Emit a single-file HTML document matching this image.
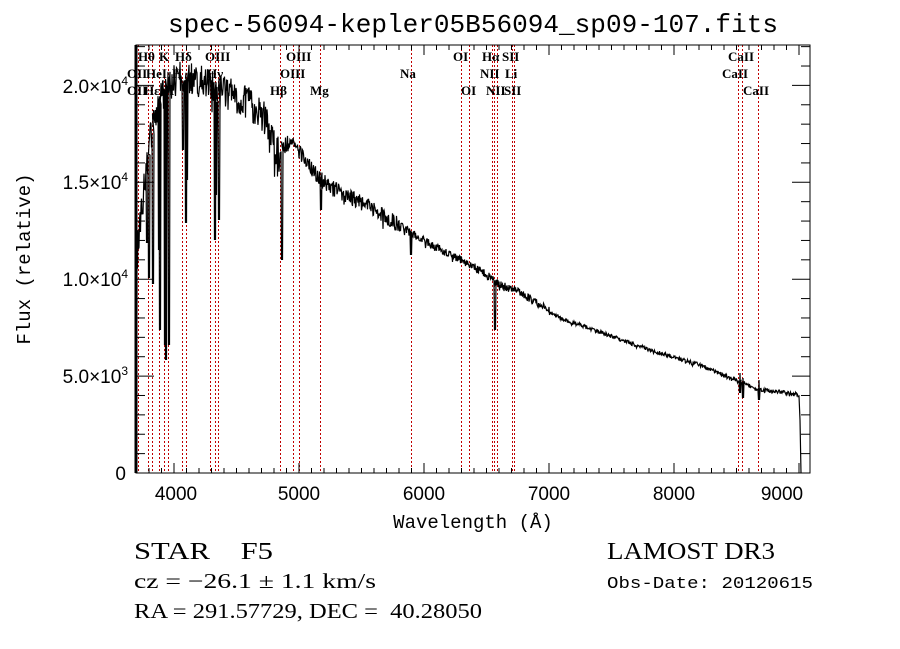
<!DOCTYPE html>
<html><head><meta charset="utf-8"><style>
body{margin:0;background:#fff;width:900px;height:649px;overflow:hidden}
svg{display:block}
.t{font-family:"Liberation Sans",sans-serif;font-size:19px;fill:#000}
.s{font-family:"Liberation Serif",serif;fill:#000}
.m{font-family:"Liberation Mono",monospace;fill:#000}
.l{font-family:"Liberation Serif",serif;font-size:13px;fill:#000;font-weight:bold}
</style></head><body>
<svg id="g" width="900" height="649" viewBox="0 0 900 649" xmlns="http://www.w3.org/2000/svg">
<text x="473" y="32" text-anchor="middle" class="m" font-size="26" textLength="610" lengthAdjust="spacingAndGlyphs">spec-56094-kepler05B56094_sp09-107.fits</text>
<g id="lines" stroke="#c00000" stroke-width="1" stroke-dasharray="2,2"></g>
<polyline id="sp" fill="none" stroke="#000" stroke-width="1.2"/>
<rect x="136" y="45" width="674" height="428" fill="none" stroke="#000" stroke-width="1"/>
<line x1="136" y1="45" x2="136" y2="473" stroke="#000" stroke-width="3"/>
<g id="ticks" stroke="#000" stroke-width="1"></g>
<g class="t" text-anchor="middle">
<text x="176" y="500">4000</text><text x="299" y="500">5000</text><text x="424" y="500">6000</text>
<text x="549" y="500">7000</text><text x="674" y="500">8000</text><text x="782" y="500">9000</text>
</g>
<g class="t" text-anchor="end">
<text x="126" y="480">0</text>
<text x="128" y="383">5.0×10<tspan dy="-8" font-size="12">3</tspan></text>
<text x="128" y="286">1.0×10<tspan dy="-8" font-size="12">4</tspan></text>
<text x="128" y="189">1.5×10<tspan dy="-8" font-size="12">4</tspan></text>
<text x="128" y="93">2.0×10<tspan dy="-8" font-size="12">4</tspan></text>
</g>
<text x="473" y="528" text-anchor="middle" class="m" font-size="19">Wavelength (Å)</text>
<text transform="translate(30,259) rotate(-90)" text-anchor="middle" class="m" font-size="19">Flux (relative)</text>
<g class="l">
<text x="138" y="61">Hθ</text><text x="159" y="61">K</text><text x="175" y="61">Hδ</text><text x="205" y="61">OIII</text>
<text x="127" y="78">OII</text><text x="146" y="78">HeI</text><text x="172" y="78">H</text><text x="207" y="78">Hγ</text>
<text x="127" y="95">OII</text><text x="144" y="95">Hε</text><text x="164" y="95">H</text>
<text x="286" y="61">OIII</text><text x="280" y="78">OIII</text><text x="270" y="95">Hβ</text><text x="310" y="95">Mg</text>
<text x="400" y="78">Na</text><text x="453" y="61">OI</text><text x="461" y="95">OI</text>
<text x="482" y="61">Hα</text><text x="502" y="61">SII</text><text x="480" y="78">NII</text><text x="505" y="78">Li</text>
<text x="486" y="95">NII</text><text x="504" y="95">SII</text>
<text x="728" y="61">CaII</text><text x="722" y="78">CaII</text><text x="743" y="95">CaII</text>
</g>
<text x="134" y="559" class="s" font-size="24" textLength="139" lengthAdjust="spacingAndGlyphs">STAR&#160;&#160;&#160;&#160;F5</text>
<text x="134" y="588" class="s" font-size="21" textLength="242" lengthAdjust="spacingAndGlyphs">cz = −26.1 ± 1.1 km/s</text>
<text x="134" y="618" class="s" font-size="21" textLength="348" lengthAdjust="spacingAndGlyphs">RA = 291.57729, DEC =&#160;&#160;40.28050</text>
<text x="607" y="559" class="s" font-size="24" textLength="168" lengthAdjust="spacingAndGlyphs">LAMOST DR3</text>
<text x="607" y="588" class="m" font-size="17" textLength="206" lengthAdjust="spacingAndGlyphs">Obs-Date: 20120615</text>
</svg>
<script>
var NS="http://www.w3.org/2000/svg";
function el(p,n,a){var e=document.createElementNS(NS,n);for(var k in a)e.setAttribute(k,a[k]);p.appendChild(e);}
var L=document.getElementById('lines');
[138,148,152,159,164,168,182,186,210,215,218,280,293,299,320,411,461,469,492,494,497,512,514,738,742,758].forEach(function(x){el(L,'line',{x1:x+.5,y1:45,x2:x+.5,y2:473});});
var T=document.getElementById('ticks');
for(var w=3700;w<=9080;w+=100){var x=299+(w-5000)*0.125;var len=(w%1000==0)?10:5;
el(T,'line',{x1:x,y1:473,x2:x,y2:473-len});el(T,'line',{x1:x,y1:45,x2:x,y2:45+len});}
for(var f=0;f<=22000;f+=1000){var y=473-f*0.01938;var len=(f%5000==0)?18:9;
el(T,'line',{x1:136,y1:y,x2:136+len,y2:y});el(T,'line',{x1:810,y1:y,x2:810-len,y2:y});}
var C=[[137,260],[140,220],[145,175],[150,140],[155,115],[160,100],[170,85],[180,78],[200,82],[220,90],[240,98],[260,112],[270,128],[276,152],[282,148],[290,142],[300,152],[310,167],[320,180],[340,192],[360,202],[380,212],[400,226],[420,238],[450,255],[480,270],[500,285],[520,292],[540,305],[560,318],[600,332],[650,350],[700,365],[740,382],[760,390],[780,392],[798,394]];
function cont(x){for(var i=0;i<C.length-1;i++)if(x<=C[i+1][0]){var t=(x-C[i][0])/(C[i+1][0]-C[i][0]);return C[i][1]+t*(C[i+1][1]-C[i][1]);}return 394;}
var D={146:243,148:278,152:284,158:250,159:330,164:345,165:360,168:345,182:150,185:223,186:180,214:240,215:195,218:220,281:260,320:210,410:255,494:330,739:393,742:398,758:400};
var s=12345;function r(){s=(s*16807)%2147483647;return s/2147483647-0.5;}
var pts=["136,473","137,300"];
for(var x=137;x<=798;x+=0.5){var amp=x<280?34:(x<400?16:(x<550?8:4));var y=cont(x)+r()*amp+(r()>0.42?Math.abs(r())*amp:0);
var xi=Math.round(x);if(D[xi]&&x==xi){pts.push(x+","+y);pts.push((x+0.5)+","+D[xi]);pts.push((x+1)+","+(D[xi]-20));pts.push((x+1.5)+","+D[xi]);pts.push((x+2)+","+y);continue;}
pts.push(x+","+y.toFixed(1));}
pts.push("799,396");pts.push("800,420");pts.push("801,473");
document.getElementById('sp').setAttribute('points',pts.join(' '));
</script>
</body></html>
